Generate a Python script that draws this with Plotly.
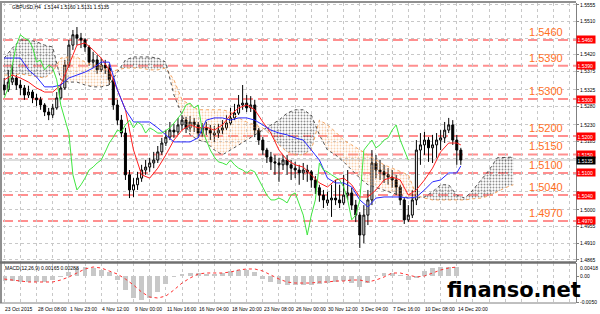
import plotly.graph_objects as go

# ---------------- data (GBPUSD H4, one entry per 2 bars) ----------------
opens = [1.5338, 1.5325, 1.5346, 1.5357, 1.5338, 1.5330, 1.5311, 1.5319, 1.5303, 1.5298,
         1.5284, 1.5265, 1.5257, 1.5276, 1.5303, 1.5330, 1.5392, 1.5446, 1.5474, 1.5465,
         1.5460, 1.5441, 1.5400, 1.5406, 1.5379, 1.5392, 1.5384, 1.5352, 1.5284, 1.5243,
         1.5208, 1.5095, 1.5054, 1.5068, 1.5086, 1.5108, 1.5116, 1.5127, 1.5135, 1.5157,
         1.5181, 1.5197, 1.5216, 1.5211, 1.5230, 1.5243, 1.5222, 1.5238, 1.5230, 1.5208,
         1.5222, 1.5216, 1.5203, 1.5208, 1.5216, 1.5222, 1.5235, 1.5249, 1.5262, 1.5284,
         1.5289, 1.5276, 1.5284, 1.5216, 1.5189, 1.5162, 1.5143, 1.5130, 1.5127, 1.5122,
         1.5135, 1.5122, 1.5113, 1.5108, 1.5100, 1.5108, 1.5103, 1.5081, 1.5060, 1.5040,
         1.5019, 1.5027, 1.5032, 1.5027, 1.5019, 1.5040, 1.5046, 1.5013, 1.4986, 1.4932,
         1.4986, 1.5027, 1.5127, 1.5108, 1.5103, 1.5095, 1.5089, 1.5081, 1.5062, 1.5027,
         1.4973, 1.4986, 1.5027, 1.5162, 1.5176, 1.5189, 1.5168, 1.5176, 1.5189, 1.5195,
         1.5216, 1.5230, 1.5189, 1.5162]
highs = [1.5357, 1.5379, 1.5392, 1.5365, 1.5352, 1.5338, 1.5336, 1.5325, 1.5314, 1.5306,
         1.5289, 1.5276, 1.5287, 1.5319, 1.5341, 1.5406, 1.5460, 1.5487, 1.5495, 1.5479,
         1.5465, 1.5446, 1.5428, 1.5419, 1.5411, 1.5406, 1.5395, 1.5357, 1.5298, 1.5257,
         1.5222, 1.5108, 1.5086, 1.5103, 1.5122, 1.5135, 1.5141, 1.5157, 1.5173, 1.5195,
         1.5216, 1.5238, 1.5233, 1.5249, 1.5257, 1.5252, 1.5254, 1.5249, 1.5238, 1.5235,
         1.5238, 1.5230, 1.5227, 1.5233, 1.5243, 1.5257, 1.5276, 1.5287, 1.5311, 1.5338,
         1.5311, 1.5308, 1.5298, 1.5222, 1.5197, 1.5168, 1.5157, 1.5149, 1.5141, 1.5149,
         1.5149, 1.5135, 1.5130, 1.5122, 1.5127, 1.5122, 1.5108, 1.5092, 1.5068, 1.5054,
         1.5049, 1.5068, 1.5081, 1.5068, 1.5095, 1.5108, 1.5060, 1.5027, 1.4994, 1.5013,
         1.5054, 1.5162, 1.5149, 1.5135, 1.5122, 1.5113, 1.5108, 1.5095, 1.5068, 1.5032,
         1.5013, 1.5054, 1.5189, 1.5208, 1.5211, 1.5197, 1.5203, 1.5208, 1.5216, 1.5238,
         1.5249, 1.5243, 1.5203, 1.5168]
lows = [1.5311, 1.5319, 1.5338, 1.5325, 1.5311, 1.5298, 1.5303, 1.5289, 1.5281, 1.5271,
        1.5254, 1.5243, 1.5249, 1.5271, 1.5298, 1.5325, 1.5384, 1.5433, 1.5446, 1.5438,
        1.5428, 1.5390, 1.5384, 1.5368, 1.5373, 1.5368, 1.5338, 1.5271, 1.5230, 1.5197,
        1.5081, 1.5032, 1.5035, 1.5054, 1.5076, 1.5095, 1.5103, 1.5113, 1.5127, 1.5149,
        1.5173, 1.5189, 1.5195, 1.5203, 1.5216, 1.5208, 1.5211, 1.5211, 1.5195, 1.5197,
        1.5203, 1.5189, 1.5184, 1.5195, 1.5205, 1.5216, 1.5230, 1.5243, 1.5257, 1.5271,
        1.5265, 1.5265, 1.5197, 1.5176, 1.5149, 1.5127, 1.5108, 1.5095, 1.5076, 1.5108,
        1.5095, 1.5081, 1.5086, 1.5068, 1.5081, 1.5076, 1.5060, 1.5043, 1.5022, 1.5005,
        1.5011, 1.4981, 1.5013, 1.5005, 1.5013, 1.5027, 1.5000, 1.4967, 1.4897, 1.4910,
        1.4959, 1.5013, 1.5086, 1.5081, 1.5073, 1.5068, 1.5060, 1.5040, 1.5013, 1.4962,
        1.4967, 1.4978, 1.5013, 1.5122, 1.5149, 1.5130, 1.5127, 1.5141, 1.5162, 1.5181,
        1.5208, 1.5176, 1.5122, 1.5122]
closes = [1.5325, 1.5346, 1.5357, 1.5338, 1.5330, 1.5311, 1.5319, 1.5303, 1.5298, 1.5284,
          1.5265, 1.5257, 1.5276, 1.5303, 1.5330, 1.5392, 1.5446, 1.5474, 1.5465, 1.5460,
          1.5441, 1.5400, 1.5406, 1.5379, 1.5392, 1.5384, 1.5352, 1.5284, 1.5243, 1.5208,
          1.5095, 1.5054, 1.5068, 1.5086, 1.5108, 1.5116, 1.5127, 1.5135, 1.5157, 1.5181,
          1.5197, 1.5216, 1.5211, 1.5230, 1.5243, 1.5222, 1.5238, 1.5230, 1.5208, 1.5222,
          1.5216, 1.5208, 1.5208, 1.5216, 1.5222, 1.5235, 1.5249, 1.5262, 1.5284, 1.5289,
          1.5276, 1.5284, 1.5216, 1.5189, 1.5162, 1.5143, 1.5130, 1.5127, 1.5122, 1.5135,
          1.5122, 1.5113, 1.5108, 1.5100, 1.5108, 1.5103, 1.5081, 1.5060, 1.5040, 1.5027,
          1.5027, 1.5032, 1.5027, 1.5019, 1.5040, 1.5046, 1.5013, 1.4986, 1.4932, 1.4986,
          1.5027, 1.5127, 1.5108, 1.5103, 1.5095, 1.5089, 1.5081, 1.5062, 1.5027, 1.4973,
          1.4986, 1.5027, 1.5162, 1.5176, 1.5189, 1.5168, 1.5176, 1.5189, 1.5195, 1.5216,
          1.5230, 1.5189, 1.5162, 1.5135]

# Ichimoku lines (every 2nd entry, plus the last one)
tenkan = [1.5352, 1.5365, 1.5357, 1.5346, 1.5330, 1.5319, 1.5319, 1.5338, 1.5392, 1.5446,
          1.5452, 1.5433, 1.5411, 1.5379, 1.5325, 1.5271, 1.5162, 1.5095, 1.5086, 1.5113,
          1.5149, 1.5189, 1.5216, 1.5230, 1.5222, 1.5224, 1.5216, 1.5230, 1.5257, 1.5276,
          1.5284, 1.5271, 1.5238, 1.5208, 1.5162, 1.5135, 1.5122, 1.5116, 1.5095, 1.5073,
          1.5062, 1.5081, 1.5086, 1.5068, 1.5035, 1.5035, 1.5054, 1.5081, 1.5089, 1.5081,
          1.5040, 1.5054, 1.5081, 1.5113, 1.5157, 1.5181, 1.5181, 1.5176]
kijun = [1.5411, 1.5411, 1.5411, 1.5379, 1.5360, 1.5333, 1.5333, 1.5338, 1.5357, 1.5365,
         1.5373, 1.5384, 1.5400, 1.5400, 1.5325, 1.5271, 1.5238, 1.5238, 1.5238, 1.5222,
         1.5203, 1.5184, 1.5184, 1.5184, 1.5195, 1.5243, 1.5249, 1.5249, 1.5243, 1.5249,
         1.5249, 1.5243, 1.5230, 1.5216, 1.5208, 1.5203, 1.5195, 1.5189, 1.5162, 1.5135,
         1.5086, 1.5073, 1.5073, 1.5062, 1.5027, 1.5008, 1.5032, 1.5035, 1.5035, 1.5035,
         1.5032, 1.5035, 1.5054, 1.5076, 1.5081, 1.5100, 1.5100, 1.5119]
# cloud boundaries (every 2nd entry, running 13 entries past the last candle)
span_a = [1.5365, 1.5365, 1.5368, 1.5365, 1.5360, 1.5357, 1.5373, 1.5411, 1.5414, 1.5414,
          1.5400, 1.5392, 1.5390, 1.5373, 1.5379, 1.5384, 1.5384, 1.5384, 1.5379, 1.5379,
          1.5384, 1.5352, 1.5298, 1.5284, 1.5271, 1.5271, 1.5271, 1.5271, 1.5265, 1.5249,
          1.5238, 1.5230, 1.5222, 1.5203, 1.5176, 1.5157, 1.5149, 1.5149, 1.5162, 1.5243,
          1.5230, 1.5211, 1.5189, 1.5176, 1.5162, 1.5149, 1.5135, 1.5122, 1.5113, 1.5103,
          1.5095, 1.5040, 1.5032, 1.5027, 1.5027, 1.5027, 1.5027, 1.5027, 1.5030, 1.5032,
          1.5038, 1.5049, 1.5060, 1.5068]
span_b = [1.5411, 1.5438, 1.5460, 1.5460, 1.5455, 1.5446, 1.5441, 1.5352, 1.5346, 1.5346,
          1.5338, 1.5333, 1.5333, 1.5338, 1.5373, 1.5406, 1.5414, 1.5414, 1.5414, 1.5411,
          1.5400, 1.5311, 1.5257, 1.5203, 1.5189, 1.5184, 1.5162, 1.5149, 1.5162, 1.5176,
          1.5189, 1.5203, 1.5216, 1.5230, 1.5243, 1.5262, 1.5271, 1.5271, 1.5257, 1.5203,
          1.5162, 1.5149, 1.5130, 1.5108, 1.5086, 1.5068, 1.5060, 1.5054, 1.5046, 1.5040,
          1.5032, 1.5032, 1.5035, 1.5049, 1.5068, 1.5068, 1.5040, 1.5032, 1.5054, 1.5081,
          1.5108, 1.5141, 1.5143, 1.5143]
# MACD (12,26,9): histogram and signal, every 2nd entry
macd_hist = [-0.00096, -0.00096, -0.00115, -0.00115, -0.00115, -0.00115, -0.00077, -0.00019,
             0.00077, 0.00154, 0.00173, 0.00154, 0.00115, 0.00077, -0.00077, -0.00269,
             -0.00423, -0.00462, -0.00423, -0.00308, -0.00154, -0.00010, 0.00038, 0.00058,
             0.00058, 0.00038, 0.00038, 0.00058, 0.00096, 0.00115, 0.00115, 0.00077,
             -0.00058, -0.00115, -0.00154, -0.00173, -0.00173, -0.00173, -0.00173, -0.00154,
             -0.00135, -0.00115, -0.00096, -0.00135, -0.00212, -0.00135, 0.00019, 0.00058,
             0.00058, 0.00005, -0.00077, -0.00038, 0.00096, 0.00154, 0.00173, 0.00173, 0.00165]
macd_signal = [-0.00058, -0.00077, -0.00096, -0.00115, -0.00115, -0.00115, -0.00115, -0.00077,
               -0.00019, 0.00058, 0.00135, 0.00173, 0.00154, 0.00096, 0.00038, -0.00058,
               -0.00173, -0.00308, -0.00404, -0.00423, -0.00385, -0.00269, -0.00135, -0.00038,
               0.00038, 0.00058, 0.00058, 0.00058, 0.00077, 0.00115, 0.00135, 0.00135,
               0.00096, 0.00019, -0.00058, -0.00115, -0.00135, -0.00135, -0.00135, -0.00115,
               -0.00115, -0.00096, -0.00096, -0.00077, -0.00077, -0.00115, -0.00077, -0.00019,
               0.00058, 0.00058, 0.00019, -0.00019, 0.00000, 0.00058, 0.00115, 0.00154, 0.00173]

levels = [1.5460, 1.5390, 1.5300, 1.5200, 1.5150, 1.5100, 1.5040, 1.4970]
level_labels = ["1.5460", "1.5390", "1.5300", "1.5200", "1.5150", "1.5100", "1.5040", "1.4970"]
last_price = 1.5135
last_price_label = "1.5135"
x_tick_labels = ["23 Oct 2015", "28 Oct 08:00", "1 Nov 23:00", "4 Nov 12:00", "9 Nov 00:00",
                 "11 Nov 16:00", "16 Nov 04:00", "18 Nov 20:00", "23 Nov 08:00", "26 Nov 00:00",
                 "30 Nov 12:00", "3 Dec 04:00", "7 Dec 16:00", "10 Dec 08:00", "14 Dec 20:00"]
y_grid_vals = [1.5555, 1.5510, 1.5465, 1.5420, 1.5375, 1.5325, 1.5280, 1.5230, 1.5185,
               1.5140, 1.5095, 1.5050, 1.5000, 1.4955, 1.4910, 1.4865]
y_grid_text = ["1.5555", "1.5510", "", "1.5420", "1.5375", "1.5325", "1.5280", "1.5230", "1.5185",
               "", "", "", "1.5000", "1.4955", "1.4910", "1.4865"]
header_text = "GBPUSD,H4  1.5144 1.5160 1.5131 1.5135"
macd_text = "MACD(12,26,9) 0.00165 0.00288"
macd_top_label = "0.00418"
watermark = "finanso.net"

# ---------------- positions ----------------
n = len(closes)
slots = list(range(n))
line_slots = list(range(0, n, 2)) + [n - 1]
span_slots = list(range(0, 2 * len(span_a), 2))
macd_slots = list(range(0, 2 * len(macd_hist), 2))
SHIFT = 13
XR = [-0.3, 141.5]
SMALL = dict(family="Liberation Sans, Arial, sans-serif", size=5, color="black")

fig = go.Figure()

# cloud (dotted fill), split where the spans cross
segments = []
cx, ca, cb = [span_slots[0]], [span_a[0]], [span_b[0]]
sign = span_a[0] >= span_b[0]
for i in range(1, len(span_slots)):
    s = span_a[i] >= span_b[i]
    if s != sign:
        d0 = span_a[i - 1] - span_b[i - 1]
        d1 = span_a[i] - span_b[i]
        t = d0 / (d0 - d1)
        xi = span_slots[i - 1] + t * (span_slots[i] - span_slots[i - 1])
        yi = span_a[i - 1] + t * (span_a[i] - span_a[i - 1])
        cx.append(xi); ca.append(yi); cb.append(yi)
        segments.append((sign, cx, ca, cb))
        cx, ca, cb = [xi], [yi], [yi]
        sign = s
    cx.append(span_slots[i]); ca.append(span_a[i]); cb.append(span_b[i])
segments.append((sign, cx, ca, cb))

for up, sx, sa, sb in segments:
    col = "#f4a460" if up else "#202020"
    fig.add_trace(go.Scatter(
        x=sx + sx[::-1], y=sa + sb[::-1], fill="toself", mode="lines",
        line=dict(width=0), fillcolor="rgba(0,0,0,0)",
        fillpattern=dict(shape=".", fgcolor=col, bgcolor="rgba(0,0,0,0)", size=3, solidity=0.3),
        hoverinfo="skip", xaxis="x", yaxis="y"))

fig.add_trace(go.Scatter(x=span_slots, y=span_a, mode="lines",
                         line=dict(color="#f4a460", width=1, dash="dot"), xaxis="x", yaxis="y"))
fig.add_trace(go.Scatter(x=span_slots, y=span_b, mode="lines",
                         line=dict(color="#505050", width=1, dash="dot"), xaxis="x", yaxis="y"))

# candles
fig.add_trace(go.Candlestick(
    x=slots, open=opens, high=highs, low=lows, close=closes,
    increasing=dict(line=dict(color="black", width=1), fillcolor="white"),
    decreasing=dict(line=dict(color="black", width=1), fillcolor="black"),
    whiskerwidth=0, xaxis="x", yaxis="y"))

# Ichimoku lines
fig.add_trace(go.Scatter(x=line_slots, y=tenkan, mode="lines",
                         line=dict(color="#ff2020", width=1), xaxis="x", yaxis="y"))
fig.add_trace(go.Scatter(x=line_slots, y=kijun, mode="lines",
                         line=dict(color="#2828ff", width=1), xaxis="x", yaxis="y"))
fig.add_trace(go.Scatter(x=[s - SHIFT for s in slots[SHIFT:]], y=closes[SHIFT:], mode="lines",
                         line=dict(color="#3fe63f", width=1), xaxis="x", yaxis="y"))

# MACD
fig.add_trace(go.Bar(x=macd_slots, y=macd_hist, width=1.2, marker=dict(color="#c8c8c8", line=dict(width=0)),
                     xaxis="x", yaxis="y2"))
fig.add_trace(go.Scatter(x=macd_slots, y=macd_signal, mode="lines",
                         line=dict(color="#ff3030", width=1, dash="dot"), xaxis="x", yaxis="y2"))

shapes = []
for lv in levels:
    shapes.append(dict(type="line", xref="x", yref="y", x0=XR[0], x1=XR[1], y0=lv, y1=lv,
                       line=dict(color="rgba(255,115,115,0.8)", width=2, dash="10px,5px"), layer="below"))
shapes.append(dict(type="line", xref="x", yref="y", x0=XR[0], x1=XR[1], y0=last_price, y1=last_price,
                   line=dict(color="#bdbdbd", width=1), layer="below"))
# frame
shapes += [
    dict(type="line", xref="paper", yref="paper", x0=-0.006, x1=1.0, y0=1.0033, y1=1.0033,
         line=dict(color="#909090", width=2)),
    dict(type="line", xref="paper", yref="paper", x0=-0.0035, x1=-0.0035, y0=0, y1=1.0033,
         line=dict(color="#909090", width=2)),
    dict(type="line", xref="paper", yref="paper", x0=-0.006, x1=1.0, y0=0.135, y1=0.135,
         line=dict(color="#707070", width=2.5)),
    dict(type="line", xref="paper", yref="paper", x0=-0.006, x1=1.0, y0=0, y1=0,
         line=dict(color="#808080", width=1)),
]

ann = []
for lv, lab in zip(levels, level_labels):
    ann.append(dict(xref="paper", yref="y", x=0.9808, y=lv, xanchor="right", yanchor="bottom",
                    yshift=0, text=lab, showarrow=False,
                    font=dict(family="Liberation Sans, Arial, sans-serif", size=11, color="#ff6f1f")))
    ann.append(dict(xref="paper", yref="y", x=1.0, y=lv, xanchor="left", yanchor="middle",
                    xshift=0, text=lab, showarrow=False, bgcolor="#ff0000", borderpad=0.5,
                    width=17, align="left", font=dict(family="Liberation Sans, Arial, sans-serif", size=5, color="white")))
ann.append(dict(xref="paper", yref="y", x=1.0, y=last_price, xanchor="left", yanchor="middle",
                text=last_price_label, showarrow=False, bgcolor="#000000", borderpad=0.5, width=17,
                align="left", font=dict(family="Liberation Sans, Arial, sans-serif", size=5, color="white")))
for i, lab in enumerate(x_tick_labels):
    ann.append(dict(xref="x", yref="paper", x=8 * i, y=0, xanchor="left", yanchor="top",
                    xshift=-1, yshift=-1, text=lab, showarrow=False, font=SMALL))
ann.append(dict(xref="paper", yref="paper", x=0.0122, y=0.9867, xanchor="left", yanchor="middle",
                text=header_text, showarrow=False, font=SMALL))
ann.append(dict(xref="paper", yref="paper", x=0.0, y=0.1167, xanchor="left", yanchor="middle",
                text=macd_text, showarrow=False, font=SMALL))
ann.append(dict(xref="paper", yref="paper", x=1.0, y=0.1333, xanchor="left", yanchor="top",
                xshift=2, text=macd_top_label, showarrow=False, font=SMALL))
ann.append(dict(xref="paper", yref="paper", x=0.8918, y=0.045, xanchor="center", yanchor="middle",
                text="<b>" + watermark + "</b>", showarrow=False,
                font=dict(family="DejaVu Sans, sans-serif", size=21, color="black")))

fig.update_layout(
    width=600, height=314, margin=dict(l=3, r=24, t=3, b=11),
    paper_bgcolor="white", plot_bgcolor="rgba(0,0,0,0)", showlegend=False,
    xaxis=dict(domain=[0, 1], range=XR, anchor="y2", tickvals=list(range(0, 141, 4)),
               showticklabels=False, ticks="", showgrid=True, gridcolor="#c8c8c8", griddash="dot",
               gridwidth=1, zeroline=False, rangeslider=dict(visible=False), fixedrange=True),
    yaxis=dict(domain=[0.13667, 1], range=[1.4859, 1.5560], side="right", anchor="x",
               tickvals=y_grid_vals, ticktext=y_grid_text, tickfont=SMALL,
               showgrid=True, gridcolor="#c8c8c8", griddash="dot", gridwidth=1, zeroline=False,
               showline=True, linecolor="#808080", linewidth=1, ticks="outside", ticklen=2,
               tickcolor="#808080"),
    yaxis2=dict(domain=[0, 0.1333], range=[-0.00519, 0.0025], side="right", anchor="x",
                tickvals=[0, -0.005], ticktext=["0.00", "-0.0050"], tickfont=SMALL,
                showgrid=False, zeroline=False, showline=True, linecolor="#808080", linewidth=1,
                ticks="outside", ticklen=2, tickcolor="#808080"),
    shapes=shapes, annotations=ann, bargap=0,
)

fig.write_html("out.html")
